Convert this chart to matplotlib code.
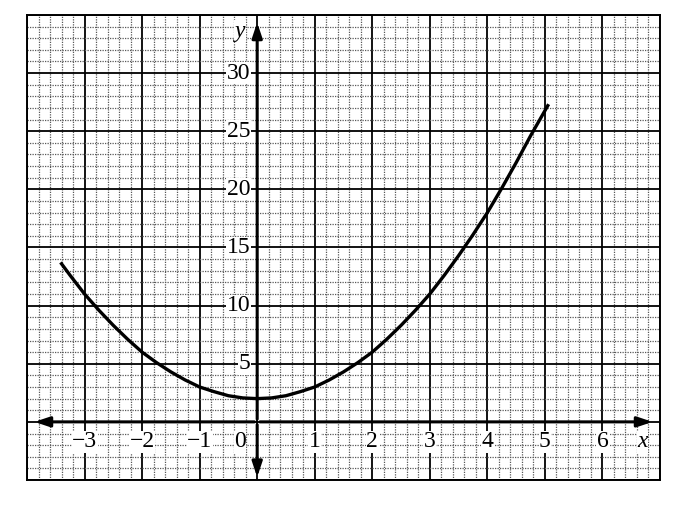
import matplotlib
matplotlib.use("Agg")
import matplotlib.pyplot as plt
import numpy as np

# values
x_pts = [-3.4, -3.25, -3, -2.75, -2.5, -2.25, -2, -1.75, -1.5, -1.25, -1, -0.75, -0.5, -0.25, 0,
         0.25, 0.5, 0.75, 1, 1.25, 1.5, 1.75, 2, 2.25, 2.5, 2.75, 3, 3.25, 3.5, 3.75, 4, 4.25,
         4.5, 4.75, 5.05]
y_pts = [13.6, 12.6, 11, 9.6, 8.3, 7.1, 6, 5.1, 4.3, 3.6, 3, 2.6, 2.25, 2.06, 2,
         2.06, 2.25, 2.6, 3, 3.6, 4.3, 5.1, 6, 7.1, 8.3, 9.6, 11, 12.6, 14.3, 16.1, 18, 20.1,
         22.3, 24.6, 27.2]

x_ticks = [-3, -2, -1, 1, 2, 3, 4, 5, 6]
x_tick_labels = ["\u22123", "\u22122", "\u22121", "1", "2", "3", "4", "5", "6"]
y_ticks = [5, 10, 15, 20, 25, 30]
y_tick_labels = ["5", "10", "15", "20", "25", "30"]

xmin, xmax = -4, 7
ymin, ymax = -5, 35

fig = plt.figure(figsize=(6.82, 5.07), dpi=100)
ax = fig.add_axes([27 / 682, 1 - 480 / 507, 633 / 682, 465 / 507])
ax.set_xlim(xmin, xmax)
ax.set_ylim(ymin, ymax)

# graph paper
ax.set_xticks(np.arange(xmin, xmax + 0.01, 1))
ax.set_yticks(np.arange(ymin, ymax + 0.01, 5))
ax.set_xticks(np.arange(xmin, xmax + 0.01, 0.2), minor=True)
ax.set_yticks(np.arange(ymin, ymax + 0.01, 1), minor=True)
ax.grid(which="minor", color="0.35", linestyle=(0, (1, 1)), linewidth=0.9)
ax.grid(which="major", color="black", linestyle="-", linewidth=1.3)
ax.tick_params(which="both", length=0, labelbottom=False, labelleft=False)
for s in ax.spines.values():
    s.set_linewidth(1.4)
    s.set_color("black")

# axes with arrows
arr = dict(arrowstyle="-|>,head_length=0.9,head_width=0.3", color="black", lw=2.2)
ax.annotate("", xy=(-3.92, 0), xytext=(0, 0), arrowprops=arr)
ax.annotate("", xy=(6.92, 0), xytext=(0, 0), arrowprops=arr)
ax.annotate("", xy=(0, 34.6), xytext=(0, 0), arrowprops=arr)
ax.annotate("", xy=(0, -5.0), xytext=(0, 0), arrowprops=arr)

# curve
ax.plot(x_pts, y_pts, color="black", linewidth=2.4, zorder=5, solid_joinstyle="round")

font = dict(family="Liberation Serif", size=17)
box = dict(facecolor="white", edgecolor="none", pad=0.3)
for xv, lab in zip(x_ticks, x_tick_labels):
    ax.text(xv, -1.7, lab, ha="center", va="center", bbox=box, zorder=4, **font)
ax.text(-0.3, -1.7, "0", ha="center", va="center", bbox=box, zorder=4, **font)
for yv, lab in zip(y_ticks, y_tick_labels):
    ax.text(-0.12, yv, lab, ha="right", va="center", bbox=box, zorder=4, **font)
ax.text(-0.3, 33.6, "y", ha="center", va="center", style="italic", bbox=box, zorder=4, **font)
ax.text(6.7, -1.7, "x", ha="center", va="center", style="italic", bbox=box, zorder=4, **font)

fig.savefig("out.png", dpi=100)
